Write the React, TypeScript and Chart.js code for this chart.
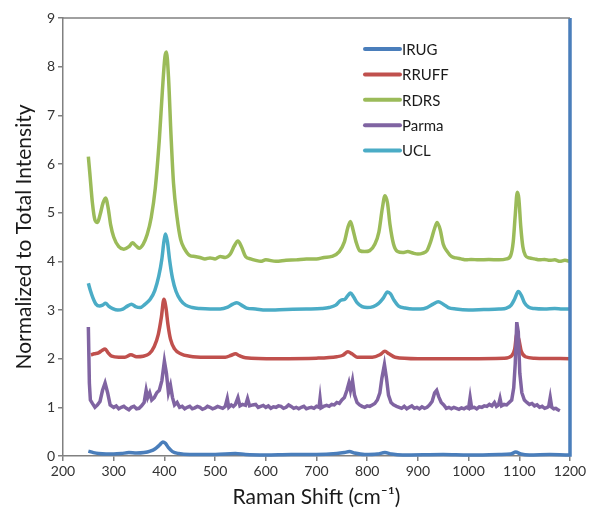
import React, { useEffect, useRef } from "react";
import { Chart, registerables } from "chart.js";

Chart.register(...registerables);

const seriesNames = ["IRUG", "RRUFF", "RDRS", "Parma", "UCL"];
const seriesColors = ["#4a7ebb", "#c0504d", "#9bbb59", "#8064a2", "#4bacc6"];

const xTicksMin = 200;
const xTicksMax = 1200;
const yTicksMin = 0;
const yTicksMax = 9;

const irug: [number, number][] = [
  [250, 0.1], [260, 0.07], [270, 0.05], [285, 0.04], [300, 0.04], [315, 0.05], [330, 0.07], [345, 0.06],
  [360, 0.07], [372, 0.1], [382, 0.15], [390, 0.22], [397, 0.29], [402, 0.26], [408, 0.17], [416, 0.09],
  [428, 0.05], [450, 0.03], [500, 0.03], [540, 0.05], [560, 0.03], [600, 0.02], [650, 0.03], [700, 0.03],
  [740, 0.05], [755, 0.07], [765, 0.09], [775, 0.06], [795, 0.03], [820, 0.04], [835, 0.07], [848, 0.04],
  [870, 0.02], [950, 0.03], [1000, 0.02], [1060, 0.03], [1083, 0.04], [1093, 0.08], [1103, 0.04],
  [1120, 0.02], [1160, 0.03], [1199, 0.02], [1200, 0.02], [1200, 9],
];

const rruff: [number, number][] = [
  [255, 2.08], [262, 2.1], [270, 2.12], [277, 2.17], [283, 2.2], [289, 2.12], [296, 2.05], [310, 2.03],
  [322, 2.03], [334, 2.08], [345, 2.04], [358, 2.05], [370, 2.1], [380, 2.25], [388, 2.5], [394, 2.85],
  [399, 3.22], [403, 3.05], [407, 2.7], [412, 2.4], [420, 2.2], [432, 2.1], [450, 2.05], [480, 2.03],
  [520, 2.03], [532, 2.07], [540, 2.1], [548, 2.06], [560, 2.02], [620, 2.0], [700, 2.01], [740, 2.04],
  [752, 2.07], [762, 2.14], [770, 2.1], [780, 2.03], [810, 2.03], [825, 2.08], [835, 2.15], [843, 2.1],
  [855, 2.03], [900, 2.0], [1000, 2.0], [1070, 2.01], [1085, 2.06], [1091, 2.2], [1095, 2.5], [1099, 2.4],
  [1104, 2.15], [1112, 2.04], [1130, 2.01], [1200, 2.0],
];

const rdrs: [number, number][] = [
  [250, 6.15], [253, 5.8], [258, 5.2], [263, 4.85], [268, 4.8], [273, 4.95], [279, 5.2], [284, 5.3],
  [289, 5.1], [294, 4.75], [300, 4.5], [310, 4.3], [320, 4.25], [330, 4.3], [337, 4.38], [344, 4.32],
  [350, 4.27], [358, 4.35], [366, 4.55], [374, 4.9], [382, 5.5], [390, 6.5], [396, 7.5], [401, 8.2],
  [404, 8.3], [408, 7.8], [413, 6.6], [418, 5.6], [425, 4.9], [432, 4.45], [440, 4.25], [450, 4.12],
  [460, 4.1], [470, 4.08], [480, 4.05], [490, 4.07], [500, 4.05], [510, 4.1], [520, 4.08], [530, 4.15],
  [538, 4.32], [545, 4.42], [552, 4.3], [560, 4.1], [570, 4.05], [580, 4.02], [590, 4.0], [600, 4.03],
  [620, 4.0], [640, 4.02], [660, 4.03], [680, 4.05], [700, 4.05], [715, 4.08], [730, 4.1], [745, 4.2],
  [755, 4.4], [762, 4.7], [767, 4.82], [772, 4.65], [778, 4.4], [785, 4.22], [795, 4.2], [805, 4.22],
  [815, 4.35], [823, 4.6], [830, 5.1], [835, 5.35], [840, 5.2], [845, 4.75], [852, 4.35], [860, 4.2],
  [870, 4.18], [880, 4.2], [890, 4.17], [900, 4.15], [910, 4.17], [918, 4.22], [925, 4.4], [933, 4.68],
  [938, 4.8], [944, 4.65], [950, 4.35], [958, 4.2], [966, 4.1], [975, 4.07], [985, 4.05], [995, 4.03],
  [1005, 4.04], [1020, 4.03], [1040, 4.04], [1060, 4.03], [1075, 4.05], [1083, 4.12], [1088, 4.4],
  [1092, 4.95], [1096, 5.42], [1099, 5.3], [1103, 4.7], [1107, 4.3], [1112, 4.12], [1120, 4.07],
  [1130, 4.05], [1140, 4.03], [1150, 4.04], [1160, 4.02], [1170, 4.03], [1180, 4.0], [1190, 4.02],
  [1200, 4.0],
];

const parma: [number, number][] = [
  [250, 2.65], [252, 1.5], [254, 1.15], [258, 1.08], [263, 1.0], [268, 1.05], [273, 1.12], [278, 1.35],
  [283, 1.5], [288, 1.3], [293, 1.05], [300, 1.0], [305, 1.03], [310, 0.97], [315, 1.0], [320, 1.02],
  [325, 0.98], [330, 0.95], [335, 1.0], [340, 1.02], [345, 0.97], [350, 0.98], [355, 1.03], [360, 1.1],
  [364, 1.35], [367, 1.2], [371, 1.3], [375, 1.15], [380, 1.2], [385, 1.3], [390, 1.35], [395, 1.55],
  [400, 1.95], [404, 1.7], [408, 1.3], [412, 1.45], [416, 1.2], [420, 1.05], [425, 1.1], [430, 1.0],
  [435, 1.02], [440, 0.97], [445, 1.0], [450, 1.02], [455, 0.97], [460, 0.99], [465, 1.02], [470, 1.0],
  [475, 0.96], [480, 0.98], [485, 1.02], [490, 1.0], [495, 0.97], [500, 0.99], [505, 1.02], [510, 1.0],
  [515, 0.98], [520, 1.02], [524, 1.18], [527, 1.0], [532, 1.05], [536, 1.02], [540, 1.06], [545, 1.2],
  [549, 1.03], [554, 1.06], [560, 1.04], [564, 1.18], [568, 1.03], [574, 1.05], [580, 1.06], [585, 1.0],
  [590, 1.02], [595, 1.04], [600, 1.0], [605, 1.03], [610, 0.98], [615, 1.01], [620, 1.0], [625, 1.03],
  [630, 1.02], [635, 0.98], [640, 1.0], [645, 1.05], [650, 1.02], [655, 0.98], [660, 1.0], [665, 0.97],
  [670, 1.0], [675, 1.02], [680, 0.97], [685, 0.99], [690, 1.0], [695, 0.98], [700, 1.02], [705, 1.0],
  [707, 1.18], [709, 0.99], [714, 1.02], [720, 1.04], [725, 1.02], [730, 1.06], [735, 1.05], [740, 1.1],
  [745, 1.08], [750, 1.15], [755, 1.2], [760, 1.35], [764, 1.5], [767, 1.35], [771, 1.55], [775, 1.25],
  [780, 1.1], [785, 1.05], [790, 1.02], [795, 1.0], [800, 1.03], [805, 1.02], [810, 1.05], [815, 1.08],
  [820, 1.15], [825, 1.3], [829, 1.6], [834, 1.88], [838, 1.6], [842, 1.25], [847, 1.1], [852, 1.05],
  [858, 1.02], [863, 1.0], [868, 0.98], [873, 1.02], [878, 0.97], [883, 1.0], [888, 1.03], [893, 0.98],
  [898, 1.0], [903, 0.97], [908, 1.01], [913, 0.98], [918, 1.0], [923, 1.05], [928, 1.12], [933, 1.3],
  [937, 1.35], [941, 1.22], [946, 1.1], [951, 1.05], [956, 0.98], [961, 1.0], [966, 0.97], [971, 1.0],
  [976, 0.98], [981, 0.96], [986, 0.99], [991, 0.97], [996, 1.0], [1000, 0.98], [1003, 1.2], [1006, 0.99],
  [1011, 1.0], [1016, 0.97], [1021, 1.01], [1026, 1.0], [1031, 1.03], [1036, 1.02], [1041, 1.06],
  [1046, 1.03], [1051, 1.1], [1055, 1.02], [1059, 1.05], [1062, 1.18], [1065, 1.03], [1070, 1.06],
  [1075, 1.05], [1080, 1.1], [1085, 1.15], [1089, 1.4], [1092, 1.9], [1095, 2.75], [1098, 2.55],
  [1101, 1.7], [1105, 1.3], [1110, 1.15], [1115, 1.1], [1120, 1.06], [1125, 1.08], [1130, 1.03],
  [1135, 1.05], [1140, 1.0], [1145, 1.02], [1150, 0.98], [1155, 1.0], [1158, 1.02], [1161, 1.2],
  [1164, 1.0], [1168, 0.97], [1172, 0.98], [1176, 0.95], [1180, 0.93],
];

const ucl: [number, number][] = [
  [250, 3.55], [254, 3.4], [259, 3.25], [265, 3.12], [272, 3.08], [278, 3.1], [284, 3.14], [290, 3.08],
  [298, 3.03], [308, 3.0], [318, 3.02], [327, 3.08], [335, 3.12], [343, 3.07], [352, 3.05], [362, 3.12],
  [372, 3.22], [381, 3.4], [389, 3.7], [395, 4.05], [399, 4.4], [402, 4.56], [406, 4.4], [410, 4.05],
  [416, 3.65], [423, 3.38], [432, 3.2], [442, 3.1], [455, 3.05], [470, 3.03], [490, 3.02], [510, 3.02],
  [525, 3.06], [535, 3.12], [543, 3.15], [552, 3.1], [562, 3.04], [580, 3.02], [600, 3.0], [640, 3.01],
  [680, 3.02], [710, 3.03], [725, 3.05], [738, 3.1], [748, 3.2], [756, 3.22], [762, 3.3], [767, 3.35],
  [773, 3.27], [780, 3.15], [790, 3.07], [800, 3.05], [812, 3.07], [822, 3.13], [832, 3.25], [840, 3.37],
  [846, 3.33], [853, 3.2], [862, 3.08], [875, 3.04], [890, 3.02], [905, 3.02], [918, 3.05], [930, 3.12],
  [940, 3.17], [950, 3.12], [960, 3.05], [975, 3.02], [1000, 3.0], [1030, 3.01], [1060, 3.02],
  [1075, 3.04], [1084, 3.1], [1091, 3.23], [1098, 3.38], [1104, 3.3], [1110, 3.15], [1118, 3.06],
  [1130, 3.03], [1150, 3.02], [1170, 3.03], [1185, 3.02], [1200, 3.02],
];

const seriesData = [irug, rruff, rdrs, parma, ucl];
const seriesTension = [0.3, 0.3, 0.3, 0, 0.3];

const FONT = "Lato, 'Open Sans', sans-serif";

const framePlugin = {
  id: "frame",
  afterDatasetsDraw(chart: any) {
    const { ctx, chartArea } = chart;
    ctx.save();
    ctx.strokeStyle = "#808080";
    ctx.lineWidth = 1.5;
    ctx.beginPath();
    ctx.moveTo(chartArea.left, chartArea.top);
    ctx.lineTo(chartArea.right, chartArea.top);
    ctx.stroke();
    ctx.restore();

    // legend inside the plot
    ctx.save();
    const lx = chartArea.left + 302;
    const ly = chartArea.top + 31;
    seriesNames.forEach((name, i) => {
      const y = ly + i * 25.4;
      ctx.strokeStyle = seriesColors[i];
      ctx.lineWidth = 4;
      ctx.lineCap = "round";
      ctx.beginPath();
      ctx.moveTo(lx, y);
      ctx.lineTo(lx + 35, y);
      ctx.stroke();
      ctx.fillStyle = "#1a1a1a";
      ctx.font = `15px ${FONT}`;
      ctx.textBaseline = "middle";
      ctx.textAlign = "left";
      ctx.fillText(name, lx + 37, y + 1);
    });
    ctx.restore();
  },
};

export default function App() {
  const ref = useRef<HTMLCanvasElement | null>(null);
  useEffect(() => {
    if (!ref.current) return;
    const chart = new Chart(ref.current, {
      type: "line",
      data: {
        datasets: seriesNames.map((name, i) => ({
          label: name,
          data: seriesData[i].map(([x, y]) => ({ x, y })),
          borderColor: seriesColors[i],
          backgroundColor: seriesColors[i],
          borderWidth: 3.5,
          pointRadius: 0,
          tension: seriesTension[i],
          cubicInterpolationMode: i === 3 ? "default" : "monotone",
          fill: false,
          clip: i === 0 ? false : undefined,
          order: i === 3 ? -1 : i,
        })),
      },
      plugins: [framePlugin],
      options: {
        animation: false,
        responsive: false,
        maintainAspectRatio: false,
        layout: { padding: { top: 18, right: 22, left: 12, bottom: 0 } },
        plugins: {
          legend: { display: false },
          tooltip: { enabled: false },
        },
        scales: {
          x: {
            type: "linear",
            min: xTicksMin,
            max: xTicksMax,
            ticks: {
              stepSize: 100,
              color: "#333",
              font: { family: FONT, size: 14 },
              padding: 2,
              maxRotation: 0,
              callback: (v: any) => String(v),
            },
            grid: {
              display: true,
              drawOnChartArea: false,
              drawTicks: true,
              tickLength: 5,
              color: "#808080",
              lineWidth: 1.5,
            },
            border: { color: "#808080", width: 1.5 },
            title: {
              display: true,
              text: "Raman Shift (cm⁻¹)",
              color: "#1a1a1a",
              font: { family: FONT, size: 21 },
              padding: { top: 1, bottom: 0 },
            },
            afterFit(scale: any) {
              scale.height = 54;
            },
          },
          y: {
            type: "linear",
            min: yTicksMin,
            max: yTicksMax,
            ticks: {
              stepSize: 1,
              color: "#333",
              font: { family: FONT, size: 14 },
              padding: 3,
            },
            grid: {
              display: true,
              drawOnChartArea: false,
              drawTicks: true,
              tickLength: 5,
              color: "#808080",
              lineWidth: 1.5,
            },
            border: { color: "#808080", width: 1.5 },
            title: {
              display: true,
              text: "Normalized to Total Intensity",
              color: "#1a1a1a",
              font: { family: FONT, size: 21 },
              padding: { top: 0, bottom: 2 },
            },
            afterFit(scale: any) {
              scale.width = 51;
            },
          },
        },
      },
    });
    return () => chart.destroy();
  }, []);
  return (
    <div style={{ position: "fixed", left: 0, top: 0, width: 592, height: 510, background: "#fff" }}>
      <canvas ref={ref} width={592} height={510} style={{ width: 592, height: 510 }} />
    </div>
  );
}
